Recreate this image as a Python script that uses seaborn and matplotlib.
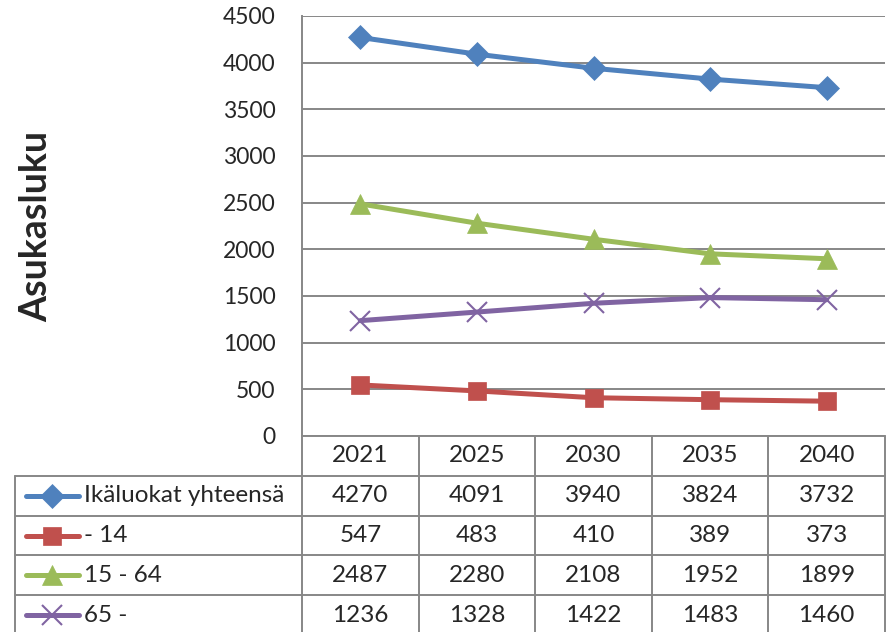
import matplotlib
matplotlib.use("Agg")
import matplotlib.pyplot as plt
import seaborn as sns

# chart data
years = ["2021", "2025", "2030", "2035", "2040"]
series_names = ["Ikäluokat yhteensä", "- 14", "15 - 64", "65 -"]
total = [4270, 4091, 3940, 3824, 3732]
age_0_14 = [547, 483, 410, 389, 373]
age_15_64 = [2487, 2280, 2108, 1952, 1899]
age_65 = [1236, 1328, 1422, 1483, 1460]
series_values = [total, age_0_14, age_15_64, age_65]
y_ticks = [0, 500, 1000, 1500, 2000, 2500, 3000, 3500, 4000, 4500]

colors = ["#4F81BD", "#C0504D", "#9BBB59", "#8064A2"]
markers = ["D", "s", "^", "x"]
msizes = [12, 13, 14, 14]
GRID = "#878787"

sns.set_style("white")
plt.rcParams["font.family"] = ["Lato", "DejaVu Sans"]

W, H = 887, 632
fig = plt.figure(figsize=(W / 100, H / 100), dpi=100)

# pixel layout
left, right, top, bottom = 302, 885, 16, 436
ax = fig.add_axes([left / W, 1 - bottom / H, (right - left) / W, (bottom - top) / H])


def edge_w(m):
    return 1.5 if m == "x" else 0.5


xs = list(range(len(years)))
for name, vals, c, m, ms in zip(series_names, series_values, colors, markers, msizes):
    sns.lineplot(x=xs, y=vals, ax=ax, color=c, linewidth=3.6, marker=m,
                 markersize=ms, markeredgecolor=c, markeredgewidth=edge_w(m),
                 label=name, legend=False)

ax.set_xlim(-0.5, len(years) - 0.5)
ax.set_ylim(0, 4500)
ax.set_yticks(y_ticks)
ax.set_yticklabels([str(v) for v in y_ticks], fontsize=16.5)
ax.set_xticks([])
ax.tick_params(axis="y", length=0, pad=19)
ax.grid(axis="y", color=GRID, linewidth=1.4)
ax.set_axisbelow(True)
for s in ["top", "right", "bottom"]:
    ax.spines[s].set_visible(False)
ax.spines["left"].set_color(GRID)
ax.spines["left"].set_linewidth(1.4)

fig.text(36 / W, 1 - 226 / H, "Asukasluku", rotation=90, fontsize=27,
         fontweight="bold", ha="center", va="center")

# data table below the plot
tab = fig.add_axes([0, 0, 1, 1])
tab.set_xlim(0, W)
tab.set_ylim(H, 0)
tab.axis("off")
tab.patch.set_alpha(0)

col_edges = [left + i * (right - left) / len(years) for i in range(len(years) + 1)]
row_h = 39.8
row_edges = [bottom + i * row_h for i in range(len(series_names) + 2)]
tab_left = 15

# horizontal lines
tab.plot([left, right], [row_edges[0]] * 2, color=GRID, lw=1.4)
for yv in row_edges[1:]:
    tab.plot([tab_left, right], [yv, yv], color=GRID, lw=1.4)
# vertical lines
for xv in col_edges:
    tab.plot([xv, xv], [row_edges[0], row_edges[-1]], color=GRID, lw=1.4)
tab.plot([tab_left, tab_left], [row_edges[1], row_edges[-1]], color=GRID, lw=1.4)

centers = [(col_edges[i] + col_edges[i + 1]) / 2 for i in range(len(years))]
for xc, yr in zip(centers, years):
    tab.text(xc, (row_edges[0] + row_edges[1]) / 2, yr, ha="center", va="center", fontsize=17.5)

for r, (name, vals, c, m, ms) in enumerate(zip(series_names, series_values, colors, markers, msizes)):
    yc = (row_edges[r + 1] + row_edges[r + 2]) / 2
    tab.plot([26, 79], [yc, yc], color=c, lw=3.6, solid_capstyle="round")
    tab.plot([52.5], [yc], marker=m, markersize=ms, color=c, markeredgecolor=c,
             markeredgewidth=edge_w(m))
    tab.text(84, yc, name, ha="left", va="center", fontsize=17.5)
    for xc, v in zip(centers, vals):
        tab.text(xc, yc, str(v), ha="center", va="center", fontsize=17.5)

fig.savefig("out.png", dpi=100)
